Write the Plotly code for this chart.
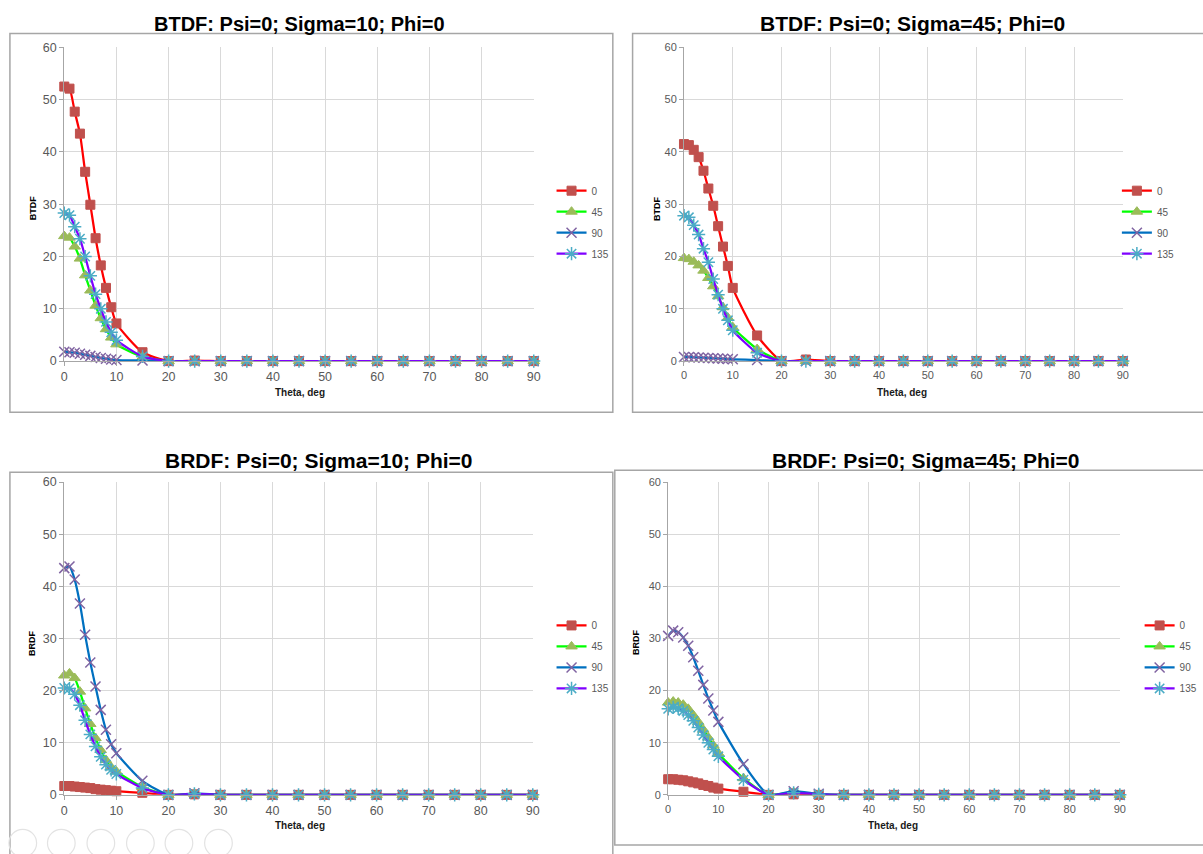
import plotly.graph_objects as go

W, H = 1203, 854

THETA = [0, 1, 2, 3, 4, 5, 6, 7, 8, 9, 10, 15, 20, 25, 30, 35, 40, 45, 50, 55, 60, 65, 70, 75, 80, 85, 90]
SERIES = ["0", "45", "90", "135"]

# BTDF: Psi=0; Sigma=10; Phi=0
tl_0 = [52.5, 52.1, 47.7, 43.5, 36.2, 29.9, 23.5, 18.3, 14.0, 10.3, 7.2, 1.7, 0, 0.1, 0, 0, 0, 0, 0, 0, 0, 0, 0, 0, 0, 0, 0]
tl_45 = [23.9, 23.6, 21.9, 19.6, 16.4, 13.5, 10.6, 8.2, 6.1, 4.5, 3.2, 0.8, 0, 0, 0, 0, 0, 0, 0, 0, 0, 0, 0, 0, 0, 0, 0]
tl_90 = [1.8, 1.7, 1.6, 1.4, 1.2, 1.0, 0.8, 0.6, 0.45, 0.3, 0.2, 0.1, 0, 0, 0, 0, 0, 0, 0, 0, 0, 0, 0, 0, 0, 0, 0]
tl_135 = [28.3, 27.9, 25.7, 23.4, 20.0, 16.3, 12.8, 10.0, 7.5, 5.5, 4.0, 0.9, 0, 0, 0, 0, 0, 0, 0, 0, 0, 0, 0, 0, 0, 0, 0]

# BTDF: Psi=0; Sigma=45; Phi=0
tr_0 = [41.5, 41.3, 40.4, 39.0, 36.4, 33.0, 29.7, 25.8, 21.9, 18.2, 14.0, 4.9, 0, 0.3, 0, 0, 0, 0, 0, 0, 0, 0, 0, 0, 0, 0, 0]
tr_45 = [19.7, 19.5, 19.0, 18.3, 17.3, 15.9, 14.3, 12.4, 10.3, 8.3, 6.5, 2.3, 0, 0, 0, 0, 0, 0, 0, 0, 0, 0, 0, 0, 0, 0, 0]
tr_90 = [0.8, 0.8, 0.75, 0.7, 0.65, 0.6, 0.55, 0.5, 0.45, 0.4, 0.35, 0.2, 0, 0, 0, 0, 0, 0, 0, 0, 0, 0, 0, 0, 0, 0, 0]
tr_135 = [27.8, 27.5, 26.0, 24.2, 21.5, 18.9, 15.7, 12.7, 10.0, 7.8, 5.9, 1.6, 0, 0, 0, 0, 0, 0, 0, 0, 0, 0, 0, 0, 0, 0, 0]

# BRDF: Psi=0; Sigma=10; Phi=0
bl_0 = [1.7, 1.7, 1.6, 1.5, 1.4, 1.3, 1.1, 1.0, 0.9, 0.8, 0.7, 0.4, 0, 0.1, 0, 0, 0, 0, 0, 0, 0, 0, 0, 0, 0, 0, 0]
bl_45 = [22.9, 23.3, 22.4, 19.8, 16.6, 13.6, 10.9, 8.6, 6.7, 5.3, 4.5, 1.5, 0, 0.2, 0, 0, 0, 0, 0, 0, 0, 0, 0, 0, 0, 0, 0]
bl_90 = [43.5, 43.8, 41.3, 36.7, 30.7, 25.4, 20.8, 16.3, 12.5, 9.7, 8.0, 2.7, 0, 0.3, 0, 0, 0, 0, 0, 0, 0, 0, 0, 0, 0, 0, 0]
bl_135 = [20.5, 20.4, 19.3, 17.2, 14.3, 11.6, 9.3, 7.3, 5.8, 4.8, 4.0, 1.3, 0, 0.2, 0, 0, 0, 0, 0, 0, 0, 0, 0, 0, 0, 0, 0]

# BRDF: Psi=0; Sigma=45; Phi=0
br_0 = [3.0, 3.0, 2.9, 2.8, 2.6, 2.4, 2.2, 1.9, 1.7, 1.4, 1.2, 0.6, 0, 0.1, 0, 0, 0, 0, 0, 0, 0, 0, 0, 0, 0, 0, 0]
br_45 = [17.7, 17.9, 17.7, 17.3, 16.5, 15.3, 14.0, 12.5, 11.0, 9.5, 8.0, 3.2, 0, 0.5, 0.1, 0, 0, 0, 0, 0, 0, 0, 0, 0, 0, 0, 0]
br_90 = [30.5, 31.5, 31.2, 30.2, 28.6, 26.4, 23.8, 21.1, 18.5, 16.2, 14.0, 5.9, 0, 0.7, 0.2, 0, 0, 0, 0, 0, 0, 0, 0, 0, 0, 0, 0]
br_135 = [16.5, 16.8, 16.6, 16.1, 15.3, 14.2, 12.9, 11.5, 10.0, 8.7, 7.4, 2.9, 0, 0.4, 0.1, 0, 0, 0, 0, 0, 0, 0, 0, 0, 0, 0, 0]

TITLES = ["BTDF: Psi=0; Sigma=10; Phi=0", "BTDF: Psi=0; Sigma=45; Phi=0",
          "BRDF: Psi=0; Sigma=10; Phi=0", "BRDF: Psi=0; Sigma=45; Phi=0"]
YTITLES = ["BTDF", "BTDF", "BRDF", "BRDF"]
XTITLE = "Theta, deg"
YTICKS = [0, 10, 20, 30, 40, 50, 60]
XTICKS = [0, 10, 20, 30, 40, 50, 60, 70, 80, 90]

PANELS = [[tl_0, tl_45, tl_90, tl_135], [tr_0, tr_45, tr_90, tr_135],
          [bl_0, bl_45, bl_90, bl_135], [br_0, br_45, br_90, br_135]]

LINE_COLORS = ["#FF0000", "#00FF00", "#0070C0", "#7F00FF"]
MARKERS = [
    dict(symbol="square", size=9, color="#C0504D", line=dict(color="#C0504D", width=1)),
    dict(symbol="triangle-up", size=10, color="#9BBB59", line=dict(color="#9BBB59", width=1)),
    dict(symbol="x-thin-open", size=10, color="#8064A2", line=dict(color="#8064A2", width=1.5)),
    dict(symbol="asterisk-open", size=11, color="#4BACC6", line=dict(color="#4BACC6", width=1.5)),
]

FONT = "Liberation Sans, Arial, sans-serif"

# layout geometry in pixels: (x at 0, x at 90, y at 60, y at 0)
PLOT_PX = [(62, 537, 41, 360), (689, 1133, 41, 360), (62, 536, 483, 801), (673, 1130, 483, 801)]
BOX_PX = [(7, 27, 617, 412), (637, 27, 1215, 412), (7, 473, 617, 866), (619, 471, 1215, 852)]
TITLE_PX = [(300, 17), (920, 17), (320, 461), (934, 461)]
TITLE_SIZE = [20, 21, 21, 21]
YT_PX = [(30, 205), (661, 205), (30, 647), (641, 646)]
XT_PX = [(300, 392), (910, 392), (300, 832), (900, 832)]
LEG_PX = [(555, 172), (1127, 172), (555, 614), (1150, 614)]
TICKFONT = [12.5, 11, 12.5, 11]
NAV_X = [20, 59, 99, 139, 178, 218]


def px(x):
    return x / W


def py(y):
    return 1 - y / H


fig = go.Figure()
layout = dict(width=W, height=H, margin=dict(l=0, r=0, t=0, b=0),
              paper_bgcolor="white", plot_bgcolor="white",
              font=dict(family=FONT, color="#595959"),
              shapes=[], annotations=[], showlegend=True)

for i, data in enumerate(PANELS):
    sfx = "" if i == 0 else str(i + 1)
    leg = "legend" + sfx
    for j, name in enumerate(SERIES):
        fig.add_trace(go.Scatter(
            x=THETA, y=data[j], name=name, mode="lines+markers",
            line=dict(color=LINE_COLORS[j], width=2.25, shape="spline", smoothing=0.6),
            marker=MARKERS[j], cliponaxis=False, legendgroup="p%d_%d" % (i, j),
            xaxis="x" + sfx, yaxis="y" + sfx, legend=leg))
    x0, x1, y60, y0 = PLOT_PX[i]
    layout["xaxis" + sfx] = dict(
        domain=[px(x0), px(x1)], range=[0, 90], anchor="y" + sfx,
        tickvals=XTICKS, showgrid=True, gridcolor="#D9D9D9", gridwidth=1,
        showline=True, linecolor="#A6A6A6", linewidth=1, zeroline=False,
        ticks="outside", ticklen=4, tickcolor="#A6A6A6",
        tickfont=dict(size=TICKFONT[i], color="#595959", family=FONT), fixedrange=True)
    layout["yaxis" + sfx] = dict(
        domain=[py(y0), py(y60)], range=[0, 60], anchor="x" + sfx,
        tickvals=YTICKS, showgrid=True, gridcolor="#D9D9D9", gridwidth=1,
        showline=True, linecolor="#A6A6A6", linewidth=1, zeroline=False,
        ticks="outside", ticklen=4, tickcolor="#A6A6A6",
        tickfont=dict(size=TICKFONT[i], color="#595959", family=FONT), fixedrange=True)
    lx, ly = LEG_PX[i]
    layout[leg] = dict(x=px(lx), y=py(ly), xanchor="left", yanchor="top",
                       bgcolor="rgba(0,0,0,0)", font=dict(size=10, color="#595959", family=FONT),
                       itemwidth=30, tracegroupgap=2)
    bx0, by0, bx1, by1 = BOX_PX[i]
    layout["shapes"].append(dict(type="rect", xref="paper", yref="paper",
                                 x0=px(bx0), x1=px(bx1), y0=py(by1), y1=py(by0),
                                 line=dict(color="#A6A6A6", width=1.5), layer="below"))
    tx, ty = TITLE_PX[i]
    layout["annotations"].append(dict(text="<b>" + TITLES[i] + "</b>", x=px(tx), y=py(ty),
                                      xref="paper", yref="paper", showarrow=False,
                                      xanchor="center", yanchor="middle",
                                      font=dict(size=TITLE_SIZE[i], color="#000000", family=FONT)))
    yx, yy = YT_PX[i]
    layout["annotations"].append(dict(text="<b>" + YTITLES[i] + "</b>", x=px(yx), y=py(yy),
                                      xref="paper", yref="paper", showarrow=False, textangle=-90,
                                      xanchor="center", yanchor="middle",
                                      font=dict(size=9, color="#000000", family=FONT)))
    xx, xy = XT_PX[i]
    layout["annotations"].append(dict(text="<b>" + XTITLE + "</b>", x=px(xx), y=py(xy),
                                      xref="paper", yref="paper", showarrow=False,
                                      xanchor="center", yanchor="middle",
                                      font=dict(size=10, color="#1a1a1a", family=FONT)))

# faint slide-show navigation circles at the lower-left corner of the screenshot
for cx in NAV_X:
    layout["shapes"].append(dict(type="circle", xref="paper", yref="paper",
                                 x0=px(cx - 14), x1=px(cx + 14), y0=py(864), y1=py(836),
                                 line=dict(color="#E3E3E3", width=1.2), layer="above"))

fig.update_layout(**layout)

POST = """
var de = document.documentElement, b = document.body;
de.style.margin = '0'; de.style.padding = '0'; de.style.overflow = 'hidden';
b.style.margin = '0'; b.style.padding = '0'; b.style.overflow = 'hidden';
var gd = document.getElementById('{plot_id}');
var w = window.innerWidth || 1203, h = window.innerHeight || 854;
gd.style.width = w + 'px'; gd.style.height = h + 'px';
Plotly.relayout(gd, {width: w, height: h});
"""

fig.write_html("out.html", config={"displayModeBar": False}, post_script=POST)
